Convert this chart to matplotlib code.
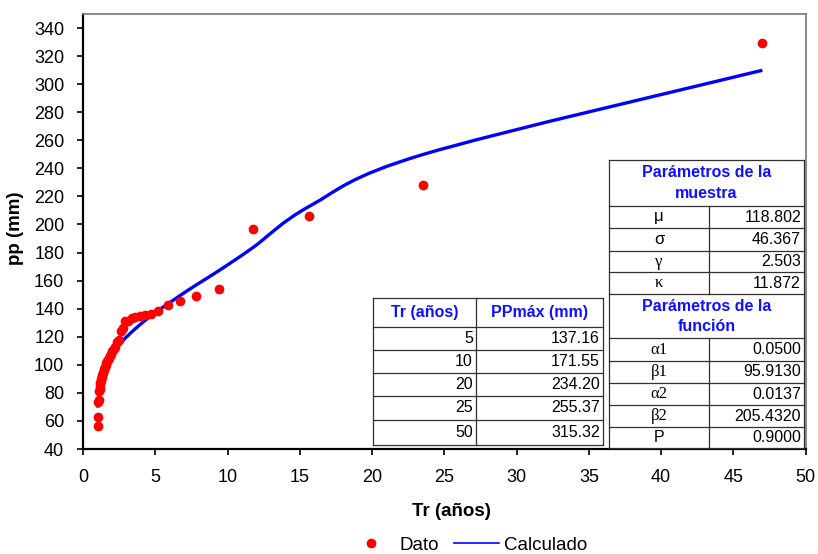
import matplotlib
matplotlib.use("Agg")
import matplotlib.pyplot as plt
from matplotlib.lines import Line2D
from matplotlib.patches import Rectangle, PathPatch
from matplotlib.path import Path

plt.rcParams['font.family'] = ['Liberation Sans', 'DejaVu Sans']

# observed maxima: return period (años) vs pp (mm)
tr_dato = [47.00, 23.50, 15.67, 11.75, 9.40, 7.83, 6.71, 5.88, 5.22, 4.70,
           4.27, 3.92, 3.62, 3.36, 3.13, 2.94, 2.76, 2.61, 2.47, 2.35,
           2.24, 2.14, 2.04, 1.96, 1.88, 1.81, 1.74, 1.68, 1.62, 1.57,
           1.52, 1.47, 1.42, 1.38, 1.34, 1.31, 1.27, 1.24, 1.21, 1.18,
           1.15, 1.12, 1.09, 1.07, 1.04, 1.02]
pp_dato = [329.0, 228.0, 206.0, 197.0, 154.0, 149.0, 145.5, 142.5, 138.0, 136.5,
           135.5, 134.5, 134.0, 133.5, 131.5, 131.0, 126.0, 124.0, 118.0, 116.0,
           113.0, 111.0, 109.5, 108.0, 106.5, 105.0, 103.5, 102.5, 101.5, 100.0,
           98.5, 97.0, 96.0, 94.5, 93.0, 91.5, 90.0, 88.5, 87.0, 85.0,
           83.0, 81.0, 75.0, 73.5, 62.5, 56.5]

# fitted curve at the same return periods
pp_calc = [309.9, 249.8, 213.0, 183.5, 167.1, 156.9, 149.3, 143.5, 138.8, 134.8,
           131.4, 128.4, 125.7, 123.3, 121.0, 119.2, 117.2, 115.3, 113.6, 111.9,
           110.3, 108.7, 107.2, 105.8, 104.4, 103.0, 101.7, 100.3, 99.0, 97.7,
           96.4, 95.2, 93.9, 92.6, 91.3, 89.9, 88.6, 87.2, 85.7, 84.2,
           82.5, 80.7, 78.7, 76.4, 73.6, 69.5]

tabla_tr = ["5", "10", "20", "25", "50"]
tabla_pp = ["137.16", "171.55", "234.20", "255.37", "315.32"]

muestra_sym = ["μ", "σ", "γ", "κ"]
muestra_val = ["118.802", "46.367", "2.503", "11.872"]
funcion_sym = ["α1", "β1", "α2", "β2", "P"]
funcion_val = ["0.0500", "95.9130", "0.0137", "205.4320", "0.9000"]


def smooth_path(xs, ys):
    # Excel-style smoothed line: cubic Bezier segments through the points
    pts = list(zip(xs, ys))
    n = len(pts)
    verts = [pts[0]]
    codes = [Path.MOVETO]
    for i in range(n - 1):
        p0 = pts[max(i - 1, 0)]
        p1 = pts[i]
        p2 = pts[i + 1]
        p3 = pts[min(i + 2, n - 1)]
        c1 = (p1[0] + (p2[0] - p0[0]) / 6, p1[1] + (p2[1] - p0[1]) / 6)
        c2 = (p2[0] - (p3[0] - p1[0]) / 6, p2[1] - (p3[1] - p1[1]) / 6)
        verts += [c1, c2, p2]
        codes += [Path.CURVE4] * 3
    return Path(verts, codes)


W, H = 818, 554
fig = plt.figure(figsize=(W / 100, H / 100), dpi=100)
ax = fig.add_axes([83 / W, 1 - 449 / H, (805.7 - 83) / W, (449 - 14) / H])

ax.add_patch(PathPatch(smooth_path(tr_dato, pp_calc), fc="none", ec="#0000ff",
                       lw=2.4, zorder=2, capstyle="butt"))
ax.plot(tr_dato, pp_dato, "o", color="#ff0000", ms=7, mec="none", label="Dato", zorder=3)

ax.set_xlim(0, 50)
ax.set_ylim(40, 350)
ax.set_xticks(range(0, 51, 5))
ax.set_yticks(range(40, 341, 20))
ax.tick_params(axis="both", labelsize=13, length=4.5, width=1.2, direction="out")
ax.tick_params(axis="x", pad=10)
ax.tick_params(axis="y", pad=9)
for s in ["left", "bottom"]:
    ax.spines[s].set_linewidth(1.6)
    ax.spines[s].set_color("black")
for s in ["top", "right"]:
    ax.spines[s].set_linewidth(1.3)
    ax.spines[s].set_color("#808080")

fig.text(451 / W, 1 - 512 / H, "Tr (años)", ha="center", va="center",
         fontsize=13.5, fontweight="bold")
fig.text(15 / W, 1 - 228 / H, "pp (mm)", ha="center", va="center",
         fontsize=13.5, fontweight="bold", rotation=90)

handles = [Line2D([], [], marker="o", ls="none", color="#ff0000", ms=7, mec="none"),
           Line2D([], [], color="#0000ff", lw=1.2)]
fig.legend(handles, ["Dato", "Calculado"], loc="center", bbox_to_anchor=(468 / W, 1 - 545 / H),
           ncol=2, frameon=False, fontsize=13.5, handlelength=2.4, columnspacing=0.8,
           handletextpad=0.3)

# overlay in pixel coordinates for the two tables
ov = fig.add_axes([0, 0, 1, 1], zorder=5)
ov.set_xlim(0, W)
ov.set_ylim(H, 0)
ov.axis("off")

blue = "#1010ff"
lc = "#303030"
fs = 11.5


def hline(x0, x1, y):
    ov.plot([x0, x1], [y, y], color=lc, lw=0.9)


def vline(x, y0, y1):
    ov.plot([x, x], [y0, y1], color=lc, lw=0.9)


# left table: Tr vs PPmax
lx0, lx1, lx2 = 373, 476, 603
lrows = [298, 327, 350, 373, 396, 420, 445]
ov.add_patch(Rectangle((lx0, lrows[0]), lx2 - lx0, lrows[-1] - lrows[0], fc="white", ec="none"))
for y in lrows:
    hline(lx0, lx2, y)
for x in [lx0, lx1, lx2]:
    vline(x, lrows[0], lrows[-1])
ov.text((lx0 + lx1) / 2, (lrows[0] + lrows[1]) / 2, "Tr (años)", color=blue,
        fontweight="bold", fontsize=fs, ha="center", va="center")
ov.text((lx1 + lx2) / 2, (lrows[0] + lrows[1]) / 2, "PPmáx (mm)", color=blue,
        fontweight="bold", fontsize=fs, ha="center", va="center")
for i, (t, p) in enumerate(zip(tabla_tr, tabla_pp)):
    yc = (lrows[i + 1] + lrows[i + 2]) / 2
    ov.text(lx1 - 3, yc, t, fontsize=fs, ha="right", va="center")
    ov.text(lx2 - 3, yc, p, fontsize=fs, ha="right", va="center")

# right table: parameters
rx0, rx1, rx2 = 609, 709, 804
rtop = 160
r_m = [205.7, 228.3, 250.7, 272.3, 294.3]
r_f = [338.3, 360.7, 383.3, 405, 427.3, 448.3]
ov.add_patch(Rectangle((rx0, rtop), rx2 - rx0, r_f[-1] - rtop, fc="white", ec="none"))
hline(rx0, rx2, rtop)
for y in r_m + r_f:
    hline(rx0, rx2, y)
vline(rx0, rtop, r_f[-1])
vline(rx2, rtop, r_f[-1])
vline(rx1, r_m[0], r_m[-1])
vline(rx1, r_f[0], r_f[-1])
ov.text((rx0 + rx2) / 2, (rtop + r_m[0]) / 2, "Parámetros de la\nmuestra", color=blue,
        fontweight="bold", fontsize=fs, ha="center", va="center", linespacing=1.45)
ov.text((rx0 + rx2) / 2, (r_m[-1] + r_f[0]) / 2, "Parámetros de la\nfunción", color=blue,
        fontweight="bold", fontsize=fs, ha="center", va="center", linespacing=1.45)
for i, (s, v) in enumerate(zip(muestra_sym, muestra_val)):
    yc = (r_m[i] + r_m[i + 1]) / 2
    fam = "Liberation Sans" if s in ("μ", "σ") else "Liberation Serif"
    ov.text((rx0 + rx1) / 2, yc, s, fontsize=fs + 0.5, ha="center", va="center", family=fam)
    ov.text(rx2 - 3, yc, v, fontsize=fs, ha="right", va="center")
for i, (s, v) in enumerate(zip(funcion_sym, funcion_val)):
    yc = (r_f[i] + r_f[i + 1]) / 2
    if s == "P":
        ov.text((rx0 + rx1) / 2, yc, s, fontsize=fs, ha="center", va="center")
    else:
        ov.text((rx0 + rx1) / 2, yc, s, fontsize=fs + 0.5, ha="center", va="center",
                family="Liberation Serif")
    ov.text(rx2 - 3, yc, v, fontsize=fs, ha="right", va="center")

fig.savefig("out.png", dpi=100)
